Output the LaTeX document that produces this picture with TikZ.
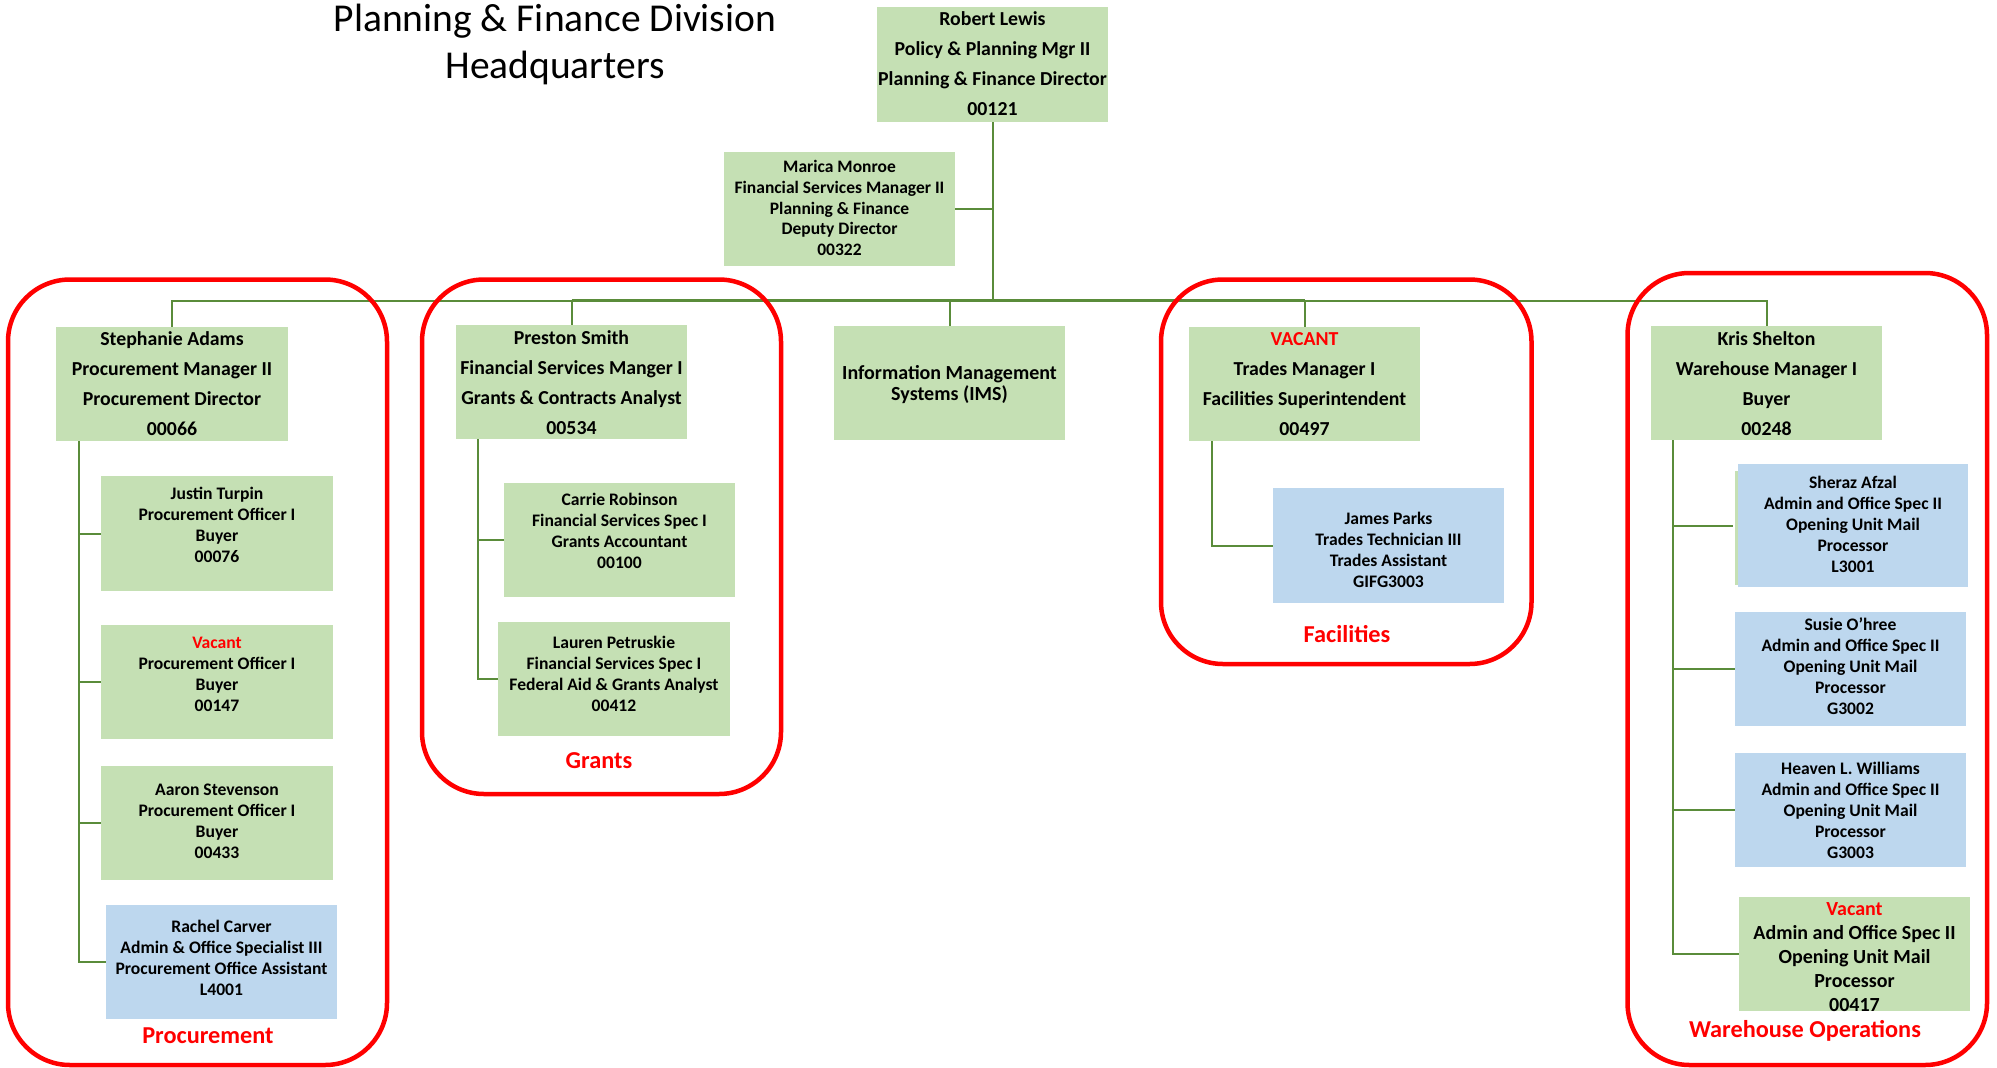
\documentclass[tikz,border=0pt]{standalone}
\usepackage{fontspec}
\setmainfont{Carlito}
\definecolor{boxgreen}{HTML}{C5E0B4}
\definecolor{boxblue}{HTML}{BDD7EE}
\definecolor{linegreen}{HTML}{5A8C3A}
\definecolor{redline}{HTML}{FF0000}
\tikzset{
  gbox/.style={fill=boxgreen, draw=none, inner sep=0pt},
  bbox/.style={fill=boxblue, draw=none, inner sep=0pt},
  toptxt/.style={font=\bfseries\fontsize{19.8}{30}\selectfont, align=center, inner sep=0pt, text height=13pt, text depth=0pt},
  imstxt/.style={font=\bfseries\fontsize{20}{21}\selectfont, align=center, inner sep=0pt, text height=13.2pt, text depth=0pt},
  midtxt/.style={font=\bfseries\fontsize{17.5}{20.8}\selectfont, align=center, inner sep=0pt, text height=11.5pt, text depth=0pt},
  subtxt/.style={font=\bfseries\fontsize{17.6}{21}\selectfont, align=center, inner sep=0pt, text height=11.6pt, text depth=0pt},
  bigsubtxt/.style={font=\bfseries\fontsize{20}{24}\selectfont, align=center, inner sep=0pt, text height=13.2pt, text depth=0pt},
  grptxt/.style={font=\bfseries\fontsize{24.3}{30}\selectfont, text=redline, inner sep=0pt, text height=16pt, text depth=0pt},
  titletxt/.style={font=\fontsize{39.5}{47}\selectfont, align=center, inner sep=0pt, text height=26pt, text depth=0pt},
  conn/.style={draw=linegreen, line width=2pt},
  busthick/.style={draw=linegreen, line width=3.4pt},
  group/.style={draw=redline, line width=4.5pt, rounded corners=62pt},
}
\begin{document}
\begin{tikzpicture}[x=1pt,y=-1pt]
\useasboundingbox (0,0) rectangle (1997,1068);

% title (text nodes are placed by their last line)
\node[titletxt] (title) at (555,65) {Planning \& Finance Division\\Headquarters};

% boxes
\node[gbox, minimum width=231pt, minimum height=115pt] (robert) at (992.5,64.5) {};
\node[toptxt] (robertT) at (992.5,109) {Robert Lewis\\Policy \& Planning Mgr II\\Planning \& Finance Director\\00121};

\node[gbox, minimum width=231pt, minimum height=114pt] (marica) at (839.5,209) {};
\node[midtxt] (maricaT) at (839.5,250) {Marica Monroe\\Financial Services Manager II\\Planning \& Finance\\Deputy Director\\00322};

\node[gbox, minimum width=232pt, minimum height=114pt] (steph) at (172,384) {};
\node[toptxt] (stephT) at (172,429) {Stephanie Adams\\Procurement Manager II\\Procurement Director\\00066};

\node[gbox, minimum width=231pt, minimum height=114pt] (preston) at (571.5,382) {};
\node[toptxt] (prestonT) at (571.5,428) {Preston Smith\\Financial Services Manger I\\Grants \& Contracts Analyst\\00534};

\node[gbox, minimum width=231pt, minimum height=114pt] (ims) at (949.5,383) {};
\node[imstxt] (imsT) at (949.5,394) {Information Management\\Systems (IMS)};

\node[gbox, minimum width=231pt, minimum height=114pt] (vac) at (1304.5,384) {};
\node[toptxt] (vacT) at (1304.5,429) {\textcolor{redline}{VACANT}\\Trades Manager I\\Facilities Superintendent\\00497};

\node[gbox, minimum width=231pt, minimum height=114pt] (kris) at (1766.5,383) {};
\node[toptxt] (krisT) at (1766.5,429) {Kris Shelton\\Warehouse Manager I\\Buyer\\00248};

% procurement
\node[gbox, minimum width=232pt, minimum height=115pt] (justin) at (217,533.5) {};
\node[subtxt] (justinT) at (217,557) {Justin Turpin\\Procurement Officer I\\Buyer\\00076};
\node[gbox, minimum width=232pt, minimum height=114pt] (pvac) at (217,682) {};
\node[subtxt] (pvacT) at (217,706) {\textcolor{redline}{Vacant}\\Procurement Officer I\\Buyer\\00147};
\node[gbox, minimum width=232pt, minimum height=114pt] (aaron) at (217,823) {};
\node[subtxt] (aaronT) at (217,853) {Aaron Stevenson\\Procurement Officer I\\Buyer\\00433};
\node[bbox, minimum width=231pt, minimum height=114pt] (rachel) at (221.5,962) {};
\node[subtxt] (rachelT) at (221.5,989.5) {Rachel Carver\\Admin \& Office Specialist III\\Procurement Office Assistant\\L4001};

% grants
\node[gbox, minimum width=231pt, minimum height=114pt] (carrie) at (619.5,540) {};
\node[subtxt] (carrieT) at (619.5,563) {Carrie Robinson\\Financial Services Spec I\\Grants Accountant\\00100};
\node[gbox, minimum width=232pt, minimum height=114pt] (lauren) at (614,679) {};
\node[subtxt] (laurenT) at (614,706) {Lauren Petruskie\\Financial Services Spec I\\Federal Aid \& Grants Analyst\\00412};

% facilities
\node[bbox, minimum width=231pt, minimum height=115pt] (james) at (1388.5,545.5) {};
\node[subtxt] (jamesT) at (1388.5,581.5) {James Parks\\Trades Technician III\\Trades Assistant\\GIFG3003};

% warehouse
\fill[boxgreen] (1735,471) rectangle (1738,585);
\node[bbox, minimum width=230pt, minimum height=123pt] (sheraz) at (1853,525.5) {};
\node[subtxt] (sherazT) at (1853,567) {Sheraz Afzal\\Admin and Office Spec II\\Opening Unit Mail\\Processor\\L3001};
\node[bbox, minimum width=231pt, minimum height=114pt] (susie) at (1850.5,669) {};
\node[subtxt] (susieT) at (1850.5,708.5) {Susie O’hree\\Admin and Office Spec II\\Opening Unit Mail\\Processor\\G3002};
\node[bbox, minimum width=231pt, minimum height=114pt] (heaven) at (1850.5,810) {};
\node[subtxt] (heavenT) at (1850.5,853) {Heaven L. Williams\\Admin and Office Spec II\\Opening Unit Mail\\Processor\\G3003};
\node[gbox, minimum width=231pt, minimum height=114.5pt] (wvac) at (1854.5,953.75) {};
\node[bigsubtxt] (wvacT) at (1854.5,1004.5) {\textcolor{redline}{Vacant}\\Admin and Office Spec II\\Opening Unit Mail\\Processor\\00417};

% connectors
\coordinate (bus) at (0,300.5);
\coordinate (sp1) at (79,0);
\coordinate (sp2) at (478,0);
\coordinate (sp3) at (1211.5,0);
\coordinate (sp4) at (1673,0);

\draw[conn] (robert.south) -- (robert.south |- bus);
\draw[conn] (marica.east) -- (marica.east -| robert.south);
\draw[conn, line join=miter] (steph.north) |- (kris.north |- bus) -- (kris.north);
\draw[busthick] (preston.north |- bus) -- (vac.north |- bus);
\draw[conn] (preston.north |- bus) -- (preston.north);
\draw[conn] (ims.north |- bus) -- (ims.north);
\draw[conn] (vac.north |- bus) -- (vac.north);

\draw[conn] (steph.south -| sp1) |- (rachel.west);
\draw[conn] (sp1 |- justin.west) -- (justin.west);
\draw[conn] (sp1 |- pvac.west) -- (pvac.west);
\draw[conn] (sp1 |- aaron.west) -- (aaron.west);

\draw[conn] (preston.south -| sp2) |- (lauren.west);
\draw[conn] (sp2 |- carrie.west) -- (carrie.west);

\draw[conn] (vac.south -| sp3) |- (james.west);

\draw[conn] (kris.south -| sp4) |- (wvac.west);
\draw[conn] (sp4 |- sheraz.west) -- ([xshift=-5pt]sheraz.west);
\draw[conn] (sp4 |- susie.west) -- (susie.west);
\draw[conn] (sp4 |- heaven.west) -- (heaven.west);

% groups
\draw[group] (8,279.5) rectangle (387,1065);
\draw[group] (422,279.5) rectangle (781,794);
\draw[group] (1161,279.5) rectangle (1531.5,664);
\draw[group] (1627.5,273) rectangle (1987,1065);

\node[grptxt] (gproc) at (208,1035) {Procurement};
\node[grptxt] (ggrants) at (599,760) {Grants};
\node[grptxt] (gfac) at (1347,634) {Facilities};
\node[grptxt] (gwh) at (1805,1029) {Warehouse Operations};
\end{tikzpicture}
\end{document}
